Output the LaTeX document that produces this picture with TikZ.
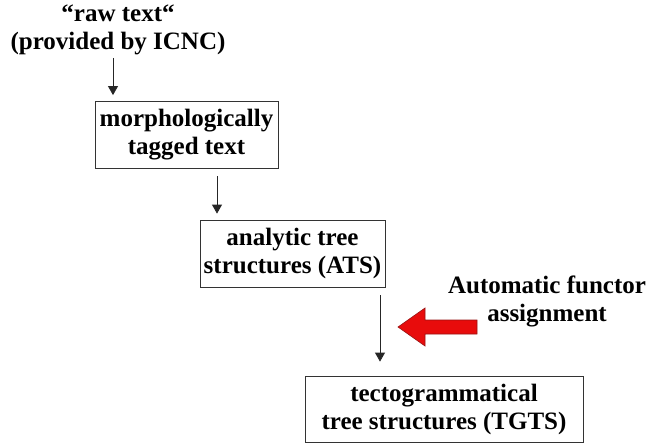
\documentclass[tikz,border=0pt]{standalone}
\usepackage{fontspec}
\setmainfont{Liberation Serif}
\usetikzlibrary{arrows.meta}
\begin{document}
\begin{tikzpicture}[x=1pt,y=-1pt,
  lbl/.style={font=\bfseries\fontsize{25}{28}\selectfont, align=center, inner sep=0pt},
  stagebox/.style={draw=black!80, line width=0.8pt, minimum height=67pt, inner sep=0pt},
  flow/.style={draw=black!85, line width=0.8pt, -{Triangle[length=9pt,width=10pt]}}]
\useasboundingbox (0,0) rectangle (650,444);

\node[lbl] (raw) at (118,30) {``raw text``\\(provided by ICNC)};
\node[stagebox, minimum width=183pt] (morph) at (186.5,135) {};
\node[lbl] at (morph.center) {morphologically\\tagged text};
\node[stagebox, minimum width=185pt] (ats) at (292.5,253.5) {};
\node[lbl] at (ats.center) {analytic tree\\structures (ATS)};
\node[stagebox, minimum width=278pt, minimum height=66pt] (tgts) at (444,409) {};
\node[lbl] at (tgts.center) {tectogrammatical\\tree structures (TGTS)};
\node[lbl] (auto) at (547,301) {Automatic functor\\assignment};

\coordinate (a1s) at (113,58);
\coordinate (a2s) at (217,176);
\coordinate (a3s) at (380,295);
\draw[flow] (a1s) -- ([yshift=6pt]a1s |- morph.north);
\draw[flow] (a2s) -- ([yshift=6pt]a2s |- ats.north);
\draw[flow] (a3s) -- ([yshift=14pt]a3s |- tgts.north);

% red block arrow pointing left
\filldraw[fill={rgb,255:red,232;green,12;blue,12}, draw={rgb,255:red,150;green,20;blue,20}, line width=0.6pt]
  (398,327) -- (425,308) -- (425,320) -- (477,320) -- (477,334) -- (425,334) -- (425,346) -- cycle;
\end{tikzpicture}
\end{document}
